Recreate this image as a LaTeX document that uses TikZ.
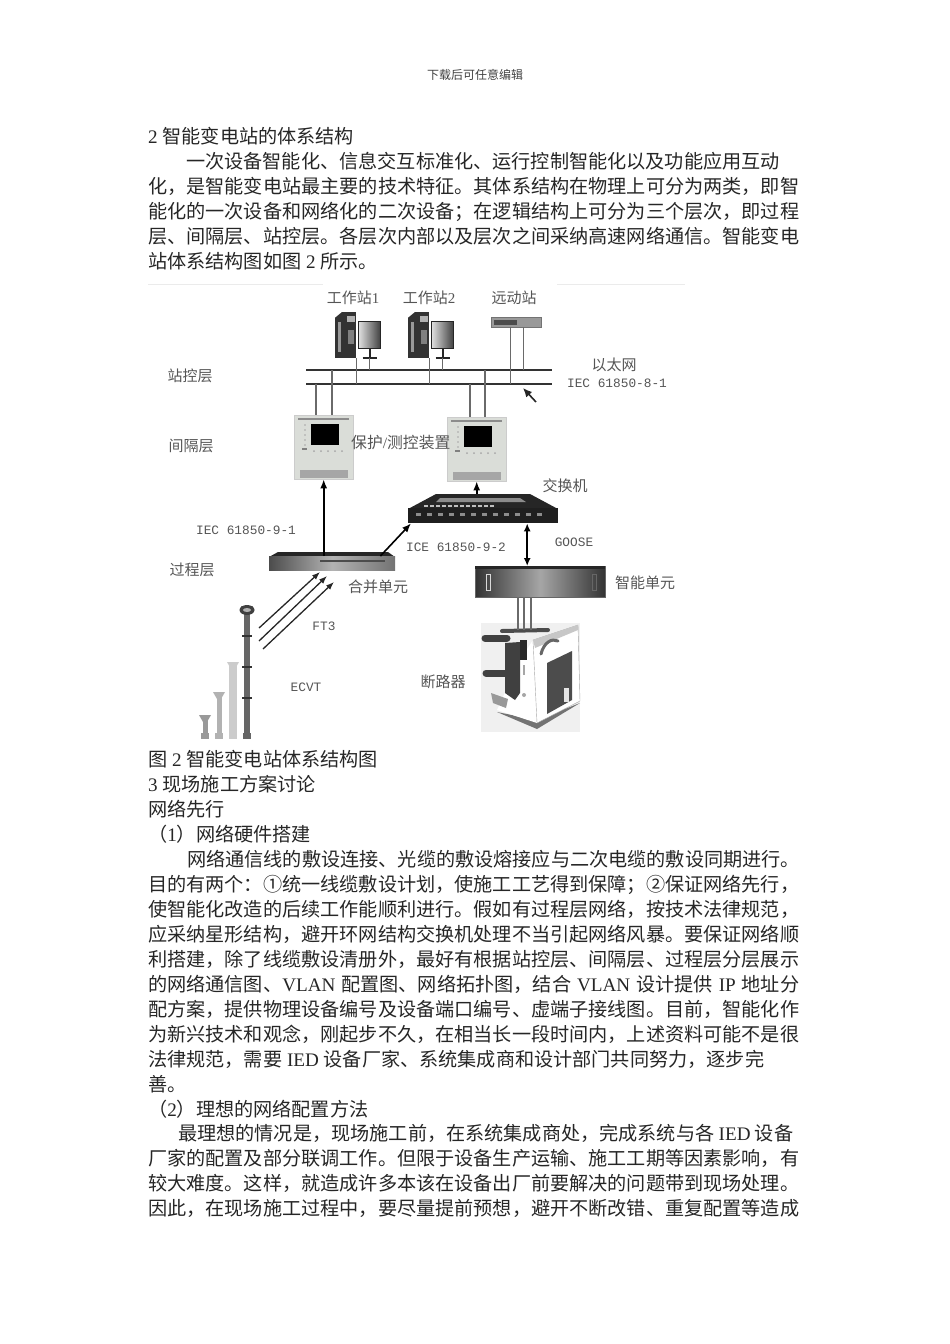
\documentclass[tikz,border=0pt]{standalone}
\usepackage{fontspec}
\setmainfont{Liberation Serif}
\newfontfamily\cjk{Noto Sans CJK SC}
\newfontfamily\enfont{Liberation Serif}
\newfontfamily\monofont{Liberation Mono}
\newcommand{\en}[1]{{\enfont #1}}
\usetikzlibrary{arrows.meta}
\definecolor{labelgray}{HTML}{555555}
\definecolor{wiregray}{HTML}{6A6A6A}
\definecolor{panelgray}{HTML}{DADDD8}
\begin{document}
\begin{tikzpicture}[x=1pt,y=-1pt,
    every node/.style={inner sep=0pt, rectangle},
    bodyline/.style={anchor=base west, font=\cjk\fontsize{19.15}{25}\selectfont, text=black!85},
    header/.style={font=\cjk\fontsize{12}{14}\selectfont, text=black!75},
    lbl/.style={font=\cjk\fontsize{15}{15}\selectfont, text=labelgray},
    num/.style={font=\monofont\fontsize{12.8}{14}\selectfont, text=labelgray},
    bus/.style={line width=1.6pt, black!80},
    wire/.style={line width=1.2pt, wiregray},
    link/.style={line width=1.6pt, black, -{Latex[length=9pt,width=7pt]}},
    duplex/.style={line width=1.6pt, black, {Latex[length=8pt,width=7pt]}-{Latex[length=8pt,width=7pt]}},
    tower/.style={anchor=north west, fill=black!80, minimum width=21pt, minimum height=46pt},
    monitor/.style={anchor=north west, draw=black!85, line width=1pt, left color=black!12, right color=black!75, minimum width=22pt, minimum height=27pt},
    relay/.style={anchor=north west, fill=panelgray, draw=black!20, minimum width=59pt, minimum height=64pt},
    screen/.style={anchor=north west, fill=black, minimum width=28pt, minimum height=21pt},
    rackunit/.style={anchor=north west, left color=black!80, right color=black!80, middle color=black!35}]
\useasboundingbox (0,0) rectangle (950,1344);

% page text
\node [header] (head) at (475,75) {下载后可任意编辑};
\node [bodyline] (t1) at (148,143) {\en{2 }智能变电站的体系结构};
\node [bodyline] (t2) at (186,168) {一次设备智能化、信息交互标准化、运行控制智能化以及功能应用互动};
\node [bodyline] (t3) at (148,193) {化，是智能变电站最主要的技术特征。其体系结构在物理上可分为两类，即智};
\node [bodyline] (t4) at (148,218) {能化的一次设备和网络化的二次设备；在逻辑结构上可分为三个层次，即过程};
\node [bodyline] (t5) at (148,243) {层、间隔层、站控层。各层次内部以及层次之间采纳高速网络通信。智能变电};
\node [bodyline] (t6) at (148,268) {站体系结构图如图\en{ 2 }所示。};
\node [bodyline] (c1) at (148,766) {图\en{ 2 }智能变电站体系结构图};
\node [bodyline] (c2) at (148,791) {\en{3 }现场施工方案讨论};
\node [bodyline] (c3) at (148,816) {网络先行};
\node [bodyline] (c4) at (148,841) {（\en{1}）网络硬件搭建};
\node [bodyline] (p1) at (187,866) {网络通信线的敷设连接、光缆的敷设熔接应与二次电缆的敷设同期进行。};
\node [bodyline] (p2) at (148,891) {目的有两个：①统一线缆敷设计划，使施工工艺得到保障；②保证网络先行，};
\node [bodyline] (p3) at (148,916) {使智能化改造的后续工作能顺利进行。假如有过程层网络，按技术法律规范，};
\node [bodyline] (p4) at (148,941) {应采纳星形结构，避开环网结构交换机处理不当引起网络风暴。要保证网络顺};
\node [bodyline] (p5) at (148,966) {利搭建，除了线缆敷设清册外，最好有根据站控层、间隔层、过程层分层展示};
\node [bodyline] (p6) at (148,991) {\makebox[651pt][s]{的网络通信图、\en{VLAN }配置图、网络拓扑图，结合\en{ VLAN }设计提供\en{ IP }地址分}};
\node [bodyline] (p7) at (148,1016) {配方案，提供物理设备编号及设备端口编号、虚端子接线图。目前，智能化作};
\node [bodyline] (p8) at (148,1041) {为新兴技术和观念，刚起步不久，在相当长一段时间内，上述资料可能不是很};
\node [bodyline] (p9) at (148,1066) {法律规范，需要\en{ IED }设备厂家、系统集成商和设计部门共同努力，逐步完};
\node [bodyline] (p10) at (148,1091) {善。};
\node [bodyline] (q0) at (148,1116) {（\en{2}）理想的网络配置方法};
\node [bodyline] (q1) at (178,1140) {\makebox[615pt][s]{最理想的情况是，现场施工前，在系统集成商处，完成系统与各\en{ IED }设备}};
\node [bodyline] (q2) at (148,1165) {厂家的配置及部分联调工作。但限于设备生产运输、施工工期等因素影响，有};
\node [bodyline] (q3) at (148,1190) {较大难度。这样，就造成许多本该在设备出厂前要解决的问题带到现场处理。};
\node [bodyline] (q4) at (148,1215) {因此，在现场施工过程中，要尽量提前预想，避开不断改错、重复配置等造成};

% faint edge of the scan
\draw [black!8] (148,284) -- (323,284) (557,284) -- (685,284);

% workstations
\foreach \n/\x in {1/335,2/408}{
  \node [tower] (tower\n) at (\x,312) {};
  \fill [white] (\x-0.5,311) -- (\x+8,311) -- (\x-0.5,318) -- cycle;
  \fill [black!30] (\x+12,316) rectangle (\x+20,322);
  \fill [black!50] (\x+13,330) rectangle (\x+19,344);
  \fill [black!40] (\x+3,322) rectangle (\x+6,352);
  \node [monitor] (monitor\n) at (\x+23,321) {};
  \draw [black!85, line width=2pt] (monitor\n.south) -- ++(0,9);
  \draw [black!85, line width=2pt] ([yshift=-9pt]monitor\n.south) ++(-7,0) -- ++(14,0);
}
\node [anchor=north west, fill=black!40, draw=black!55, minimum width=50pt, minimum height=10pt] (remote) at (491,317) {};
\fill [black!70] (494,320) rectangle (517,325);
\node [lbl] (ws1label) at (353,298) {工作站\en{1}};
\node [lbl] (ws2label) at (429,298) {工作站\en{2}};
\node [lbl] (remotelabel) at (514,298) {远动站};

% ethernet
\coordinate (busaw) at (306,370);
\coordinate (busae) at (552,370);
\coordinate (busbw) at (306,384);
\coordinate (busbe) at (552,384);
\draw [bus] (busaw) -- (busae);
\draw [bus] (busbw) -- (busbe);
\foreach \n in {1,2}{
  \draw [wire] (tower\n.south east) -- (tower\n.south east |- busbw);
  \draw [wire] ([yshift=-9pt]monitor\n.south) -- (monitor\n.south |- busaw);
}
\draw [wire] ([xshift=-6pt]remote.south) -- ([xshift=-6pt]remote.south |- busbw);
\draw [wire] ([xshift=7pt]remote.south) -- ([xshift=7pt]remote.south |- busaw);
\node [lbl] (netlabel) at (614,365) {以太网};
\node [num] (netstd) at (617,383) {IEC 61850-8-1};
\coordinate (pointer) at (536,402);
\coordinate (pointertip) at (523,388);
\draw [line width=1.6pt, black!85, -{Latex[length=9pt,width=8pt]}] (pointer) -- (pointertip);

% protection and control units
\foreach \n/\x/\y in {1/294/415,2/447/417}{
  \node [relay] (relay\n) at (\x,\y) {};
  \node [screen] (screen\n) at (\x+17,\y+9) {};
  \fill [black!45] (\x+4,\y+3) rectangle (\x+55,\y+5);
  \fill [black!35] (\x+6,\y+55) rectangle (\x+54,\y+63);
  \foreach \k in {0,1,2,3,4}{
    \fill [black!35] (\x+11,\y+10+\k*5) circle (0.8);
    \fill [black!35] (\x+20+\k*7,\y+36) circle (1);
  }
  \fill [black!50] (\x+8,\y+33) rectangle (\x+13,\y+35);
}
\draw [wire] (316,384) coordinate (r1a) -- (r1a |- relay1.north);
\draw [wire] (332,370) coordinate (r1b) -- (r1b |- relay1.north);
\draw [wire] (470,384) coordinate (r2a) -- (r2a |- relay2.north);
\draw [wire] (485,370) coordinate (r2b) -- (r2b |- relay2.north);
\node [lbl, anchor=west, font=\cjk\fontsize{15.8}{16}\selectfont] (relaylabel) at (351,443) {保护\en{/}测控装置};

% layers
\node [lbl] (layer1) at (190,376) {站控层};
\node [lbl] (layer2) at (191,446) {间隔层};
\node [lbl] (layer3) at (192,570) {过程层};

% switch
\fill [black!85] (436,494) -- (530,494) -- (558,509) -- (408,509) -- cycle;
\fill [black!45] (440,498) -- (520,498) -- (526,502) -- (436,502) -- cycle;
\node [anchor=north west, fill=black!88, minimum width=150pt, minimum height=15pt] (switch) at (408,508) {};
\foreach \k in {0,...,11}{
  \fill [white!75!black] (424+\k*6,505) rectangle (428+\k*6,507);
  \fill [black!45] (416+\k*11,513) rectangle (421+\k*11,516);
}
\coordinate (switchtop) at (482,494);
\draw [link] (relay2.south |- switchtop) -- (relay2.south);
\node [lbl] (switchlabel) at (565,486) {交换机};

% merging unit
\fill [black!85] (278,552) -- (388,552) -- (395,557) -- (269,557) -- cycle;
\node [rackunit, left color=black!70, right color=black!55, middle color=black!30, minimum width=126pt, minimum height=14pt] (merge) at (269,556) {};
\fill [black!70] (320,560) rectangle (385,562);
\node [lbl] (mergelabel) at (378,587) {合并单元};
\draw [link] (merge.north -| relay1.south) -- (relay1.south);
\draw [link] ([xshift=-15pt]merge.north east) -- ([xshift=3pt]switch.south west);
\node [num] (svlabel) at (246,530) {IEC 61850-9-1};
\node [num] (gslabel) at (456,547) {ICE 61850-9-2};
\node [num] (goose) at (574,542) {GOOSE};

% intelligent unit
\node [rackunit, draw=black!60, minimum width=130pt, minimum height=31pt] (smart) at (475,566) {};
\fill [black!85] (475,566) rectangle (605,569);
\draw [black!15, line width=1pt] (486,574) rectangle (490,590);
\draw [black!60, line width=1pt] (592,574) rectangle (596,590);
\draw [duplex] ([xshift=44pt]switch.south) -- ([xshift=-13pt]smart.north);
\node [lbl] (smartlabel) at (645,583) {智能单元};

% breaker
\fill [black!6] (481,623) rectangle (580,732);
\fill [black!55] (497,712) -- (537,729) -- (580,703) -- (537,720) -- cycle;
\fill [white] (533,640) -- (578,625) -- (580,701) -- (537,723) -- (497,710) -- (520,660) -- cycle;
\draw [black!35] (533,640) -- (578,625) -- (580,701) -- (537,723) -- (533,640);
\fill [black!22] (533,640) -- (578,625) -- (578,630) -- (535,648) -- cycle;
\fill [black!70] (547,663) -- (572,651) -- (572,700) -- (547,714) -- cycle;
\fill [white!90!black] (564,688) rectangle (569,702);
\draw [line width=4pt, black!70, line cap=round] (502,631) -- (548,630);
\fill [black!75] (505,643) -- (520,642) -- (520,693) -- (515,700) -- (505,693) -- cycle;
\fill [black!85] (520,640) rectangle (527,660);
\fill [black!35] (524,695) circle (2);
\fill [black!35] (523,665) rectangle (525,675);
\draw [line width=7pt, black!75, line cap=round] (485,638) -- (507,638);
\draw [line width=7pt, black!75, line cap=round] (486,673) -- (505,673);
\draw [line width=3pt, black!60, line cap=round] (541,654) .. controls (544,642) and (552,638) .. (558,641);
\fill [black!40] (491,693) -- (508,699) -- (506,708) -- (493,703) -- cycle;
\node [anchor=north, minimum width=33pt, minimum height=1pt] (breaker) at (524,630) {};
\foreach \s in {-6,0,7}{
  \draw [wire] ([xshift=\s pt]breaker.north |- smart.south) -- ([xshift=\s pt]breaker.north);
}
\node [lbl] (breakerlabel) at (443,682) {断路器};

% ECVT columns
\foreach \x/\t/\w/\c in {247/607/6/60,233/663/8/20,219/693/5/30,205/716/5/40}{
  \fill [black!\c] (\x-\w/2,\t) rectangle (\x+\w/2,737);
  \fill [black!\c] (\x-6,\t-1) -- (\x+6,\t-1) -- (\x+2,\t+6) -- (\x-2,\t+6) -- cycle;
  \fill [black!\c] (\x-4,733) rectangle (\x+4,739);
}
\fill [black!75] (247,610) ellipse (7.5 and 5);
\fill [black!30] (247,610) ellipse (4 and 2);
\foreach \y in {635,666,697}{
  \fill [black!80] (242,\y) rectangle (252,\y+2);
}
\node [num] (ecvtlabel) at (306,687) {ECVT};

% FT3 links
\foreach \n/\xa/\ya/\xb/\yb in {1/259/628/320/572,2/259/641/327/576,3/263/649/334/582}{
  \coordinate (ecvt\n) at (\xa,\ya);
  \coordinate (mu\n) at (\xb,\yb);
  \draw [line width=1.3pt, black!85, -{Latex[length=8pt,width=6pt]}] (ecvt\n) -- (mu\n);
}
\node [num] (ftlabel) at (324,626) {FT3};

\end{tikzpicture}
\end{document}
